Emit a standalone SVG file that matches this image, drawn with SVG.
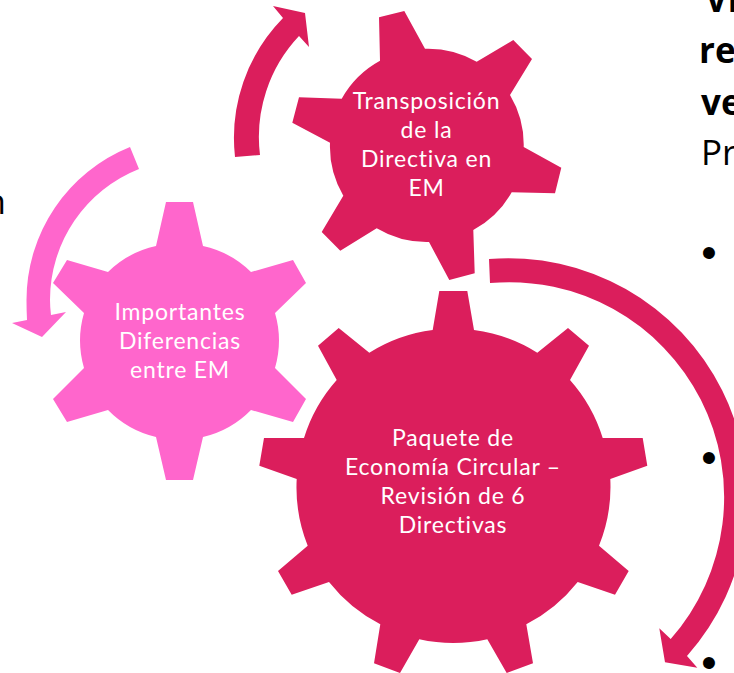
<svg xmlns="http://www.w3.org/2000/svg" width="734" height="673" viewBox="0 0 734 673">
<style>
.crimson{fill:#DB1E5C}
.pink{fill:#FF66CC}
.label{font-family:"Lato","Liberation Sans",sans-serif;font-size:23px;letter-spacing:.8px;fill:#fff;text-anchor:middle}
.body{font-family:"Open Sans","Liberation Sans",sans-serif;font-size:35px;fill:#000}
.bold{font-weight:700}
.bullet{font-family:"Liberation Sans",sans-serif;font-size:44px;fill:#000;text-anchor:middle}
</style>
<rect width="734" height="673" fill="#fff"/>
<g id="page-text">
<text class="body bold" x="705" y="12">Vi</text>
<text class="body bold" x="699" y="63">re</text>
<text class="body bold" x="701" y="115">ve</text>
<text class="body" x="701" y="165">Pr</text>
<text class="body" x="6" y="214" text-anchor="end">n</text>
<text class="bullet" x="709" y="268">•</text>
<text class="bullet" x="709" y="473">•</text>
<text class="bullet" x="709" y="678">•</text>
</g>
<g id="connectors">
<path class="pink" d="M130 147A165 165 0 0 0 26.500 300Q26.500 310 27 320L12 323L42 337L66 312L51 315Q50 307 50 300A141 141 0 0 1 139 169Z"/>
<path class="crimson" d="M235 157A171.500 171.500 0 0 1 283 18L273 6L305 13L309 47L299 36A147 147 0 0 0 260 155Z"/>
<path class="crimson" d="M489 259A239 239 0 0 1 687 656L697.300 667.700L665 662.300L659.300 628.300L670.700 639A215 215 0 0 0 490 283Z"/>
</g>
<g id="node-diferencias">
<path class="pink" d="M166 202L193 202L203 246A98.500 98.500 0 0 1 251 272L293 260L306 283L275 313A98.500 98.500 0 0 1 275 368L306 399L293 422L251 410A98.500 98.500 0 0 1 203 437L193 480L166 480L156 437A98.500 98.500 0 0 1 108 410L67 422L53 399L84 368A98.500 98.500 0 0 1 84 313L53 283L67 260L108 272A98.500 98.500 0 0 1 156 246Z"/>
<text class="label" x="180" y="320">Importantes</text>
<text class="label" x="180" y="349">Diferencias</text>
<text class="label" x="180" y="378">entre EM</text>
</g>
<g id="node-transposicion">
<path class="crimson" d="M379 17.300L404.300 11L425 48.700A97 97 0 0 1 476.700 61.700L513.300 40L532 59L510 95A97 97 0 0 1 523.700 147L561.300 167.700L555 193.300L511.700 192.300A97 97 0 0 1 473.300 230L474.700 273.300L449.300 280L429 242A97 97 0 0 1 376.700 228.300L340.300 250.700L321.700 232L343.300 195.700A97 97 0 0 1 330 142.700L292.300 122.700L299 97.300L341.700 98.700A97 97 0 0 1 380 60.700Z"/>
<text class="label" x="426.500" y="109">Transposición</text>
<text class="label" x="426.500" y="138">de la</text>
<text class="label" x="426.500" y="167">Directiva en</text>
<text class="label" x="426.500" y="196">EM</text>
</g>
<g id="node-paquete">
<path class="crimson" d="M439.300 291L467.300 291L474 330A157 157 0 0 1 537.300 352.700L568 328L589 345.700L570 380A157 157 0 0 1 602.700 438L642.700 438L647.300 465.700L610.300 479A157 157 0 0 1 599 545.700L628.700 571L615 594.700L577.700 582A157 157 0 0 1 526.300 624.300L533 663.300L506.700 673L487.300 639.300A157 157 0 0 1 419.300 639.300L400 673L374 663.300L380.300 624.300A157 157 0 0 1 329 582L291.700 594.700L278 571L307.700 545.700A157 157 0 0 1 296.700 479L259.300 465.700L264 438L304 438A157 157 0 0 1 336.700 380L318 345.700L338.700 328L369.300 352.700A157 157 0 0 1 432.700 330Z"/>
<text class="label" x="453" y="446">Paquete de</text>
<text class="label" x="453" y="475">Economía Circular –</text>
<text class="label" x="453" y="504">Revisión de 6</text>
<text class="label" x="453" y="533">Directivas</text>
</g>
</svg>
